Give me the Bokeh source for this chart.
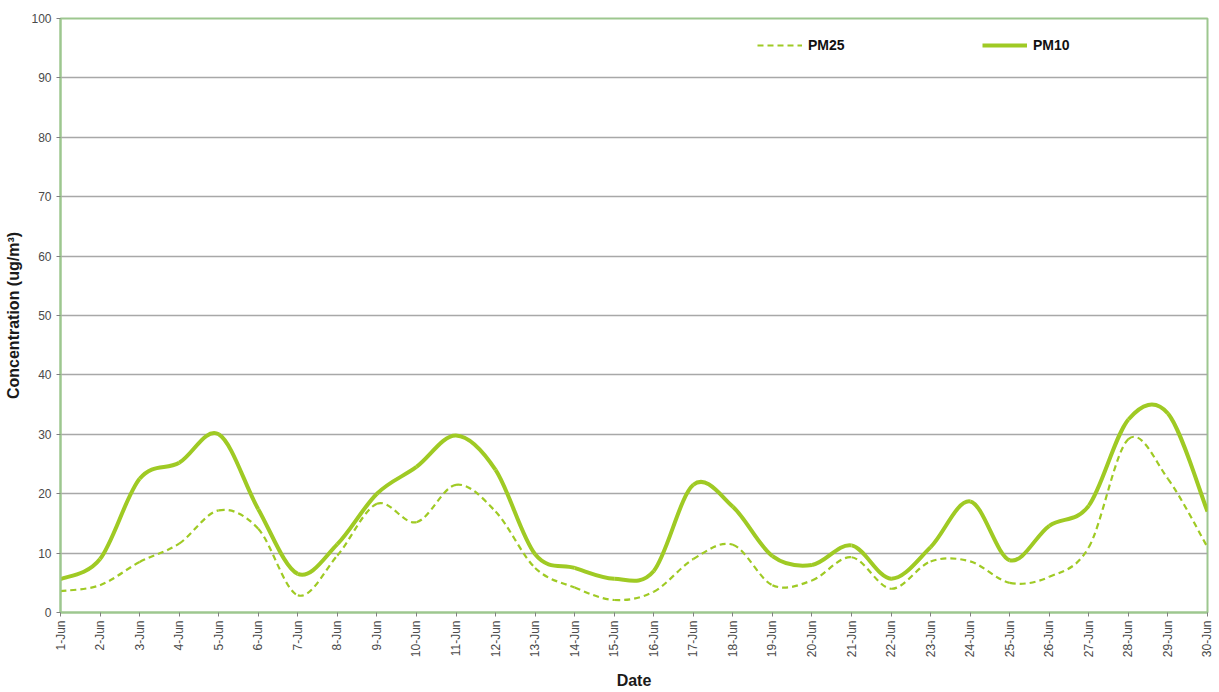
import numpy as np
from bokeh.plotting import figure
from bokeh.models import FixedTicker, Legend, LegendItem, ColumnDataSource, Range1d
from bokeh.embed import file_html
from bokeh.resources import INLINE

days = list(range(1, 31))
date_labels = [f"{d}-Jun" for d in days]
pm25 = [3.6, 4.6, 8.5, 11.6, 17.2, 14.1, 2.9, 9.6, 18.3, 15.2,
        21.5, 17.0, 7.5, 4.2, 2.1, 3.5, 9.0, 11.4, 4.6, 5.4,
        9.3, 4.0, 8.6, 8.6, 5.0, 6.0, 11.0, 29.2, 22.5, 11.0]
pm10 = [5.6, 9.0, 22.5, 25.2, 30.0, 17.4, 6.5, 11.5, 20.0, 24.5,
        29.8, 24.0, 9.8, 7.5, 5.7, 7.0, 21.5, 17.8, 9.5, 8.0,
        11.3, 5.7, 11.0, 18.7, 8.8, 14.6, 18.0, 32.5, 33.5, 17.0]
y_ticks = list(range(0, 101, 10))

LINE = "#9FCA24"
FRAME = "#9DC78F"


def bezier_source(x, y):
    out = {}
    for name, v in (("x", x), ("y", y)):
        a = np.asarray(v, float)
        n = len(a)
        pp = np.concatenate([[a[0]], a, [a[-1]]])
        out[name + "0"] = pp[1:n]
        out[name + "1"] = pp[2:n + 1]
        out["c" + name + "0"] = pp[1:n] + (pp[2:n + 1] - pp[0:n - 1]) / 6.0
        out["c" + name + "1"] = pp[2:n + 1] - (pp[3:n + 2] - pp[1:n]) / 6.0
    return ColumnDataSource(out)


p = figure(width=1213, height=692, x_range=Range1d(1, 30), y_range=Range1d(0, 100),
           output_backend="svg", toolbar_location=None,
           min_border_left=60, min_border_right=6, min_border_top=18, min_border_bottom=78)
p.background_fill_color = "white"
p.border_fill_color = "white"
p.outline_line_color = FRAME
p.outline_line_width = 2

r25 = p.bezier(x0="x0", y0="y0", x1="x1", y1="y1", cx0="cx0", cy0="cy0", cx1="cx1", cy1="cy1",
               source=bezier_source(days, pm25), line_color=LINE, line_width=2.2, line_dash="6 4")
r10 = p.bezier(x0="x0", y0="y0", x1="x1", y1="y1", cx0="cx0", cy0="cy0", cx1="cx1", cy1="cy1",
               source=bezier_source(days, pm10), line_color=LINE, line_width=4)

p.xgrid.visible = False
p.ygrid.grid_line_color = "#A8A8A8"
p.ygrid.grid_line_width = 1.5

p.xaxis.ticker = FixedTicker(ticks=days)
p.xaxis.major_label_overrides = {d: lab for d, lab in zip(days, date_labels)}
p.xaxis.major_label_orientation = np.pi / 2
p.yaxis.ticker = FixedTicker(ticks=y_ticks)

for ax in (p.xaxis[0], p.yaxis[0]):
    ax.axis_line_color = FRAME
    ax.axis_line_width = 2
    ax.major_tick_line_color = "#808080"
    ax.major_tick_out = 4
    ax.major_tick_in = 0
    ax.minor_tick_line_color = None
    ax.major_label_text_font = "Liberation Sans"
    ax.major_label_text_font_size = "12px"
    ax.major_label_text_color = "#4a4a4a"
    ax.axis_label_text_font = "Liberation Sans"
    ax.axis_label_text_font_style = "bold"
    ax.axis_label_text_font_size = "16px"
    ax.axis_label_text_color = "#1a1a1a"

p.xaxis.axis_label = "Date"
p.yaxis.axis_label = "Concentration (ug/m³)"
p.xaxis.major_label_standoff = 4
p.yaxis.major_label_standoff = 5
p.xaxis.axis_label_standoff = 12
p.yaxis.axis_label_standoff = 6

legend = Legend(items=[LegendItem(label="PM25", renderers=[r25]),
                       LegendItem(label="PM10", renderers=[r10])],
                orientation="horizontal", location=(697, 557),
                padding=0, margin=0, spacing=0,
                glyph_width=45, glyph_height=20, label_height=20,
                label_width=174, label_standoff=6,
                label_text_font="Liberation Sans", label_text_font_style="bold",
                label_text_font_size="14px", label_text_color="#111111",
                border_line_color=None, background_fill_alpha=0)
p.add_layout(legend)

open("out.html", "w").write(file_html(p, INLINE))
